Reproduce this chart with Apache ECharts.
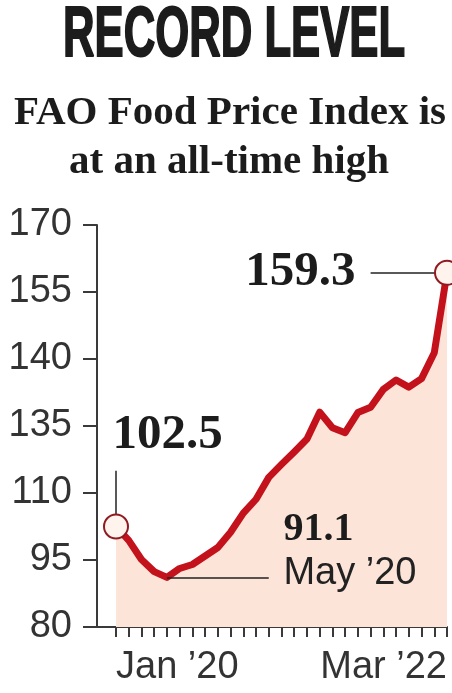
<!DOCTYPE html>
<html>
<head>
<meta charset="utf-8">
<script src="https://cdn.jsdelivr.net/npm/echarts@6/dist/echarts.min.js"></script>
<style>
html, body { margin: 0; padding: 0; background: #fff; }
#chart { width: 452px; height: 693px; }
</style>
</head>
<body>
<div id="chart"></div>
<script>
// FAO Food Price Index, monthly, Jan 2020 - Mar 2022
var months = [
	'Jan ’20', 'Feb ’20', 'Mar ’20', 'Apr ’20', 'May ’20', 'Jun ’20',
	'Jul ’20', 'Aug ’20', 'Sep ’20', 'Oct ’20', 'Nov ’20', 'Dec ’20',
	'Jan ’21', 'Feb ’21', 'Mar ’21', 'Apr ’21', 'May ’21', 'Jun ’21',
	'Jul ’21', 'Aug ’21', 'Sep ’21', 'Oct ’21', 'Nov ’21', 'Dec ’21',
	'Jan ’22', 'Feb ’22', 'Mar ’22'
];
var fpi = [
	102.5, 99.4, 95.1, 92.4, 91.1, 93.1,
	94.0, 95.9, 97.8, 101.2, 105.5, 108.6,
	113.5, 116.4, 119.2, 122.1, 128.1, 124.6,
	123.5, 128.0, 129.2, 133.2, 135.3, 133.7,
	135.6, 141.4, 159.3
];
// tick labels exactly as printed on the graphic
var yTickLabels = ['80', '95', '110', '135', '140', '155', '170'];

var last = fpi.length - 1;
var lowIdx = fpi.indexOf(Math.min.apply(null, fpi));
var red = '#c3121b';
var ink = '#1c1c1c';
var axisInk = '#3a3a3a';

var numLabel = {
	fontFamily: 'Liberation Serif',
	fontWeight: 'bold',
	fontSize: 49,
	color: ink
};

var chart = echarts.init(document.getElementById('chart'));
var option = {
	backgroundColor: '#fff',
	animation: false,
	graphic: [{
		type: 'text',
		x: 63,
		y: 37,
		scaleX: 0.624,
		style: {
			text: 'RECORD LEVEL',
			font: 'bold 70px "Liberation Sans"',
			fill: ink,
			stroke: ink,
			lineWidth: 2,
			verticalAlign: 'middle'
		}
	}, {
		type: 'text',
		x: 230,
		y: 113,
		style: {
			text: 'FAO Food Price Index is',
			font: 'bold 41px "Liberation Serif"',
			fill: ink,
			align: 'center',
			verticalAlign: 'middle'
		}
	}, {
		type: 'text',
		x: 229,
		y: 162,
		style: {
			text: 'at an all-time high',
			font: 'bold 41px "Liberation Serif"',
			fill: ink,
			align: 'center',
			verticalAlign: 'middle'
		}
	}],
	grid: [
		{ left: 116, right: 5, top: 225, bottom: 66 },
		// small grid only to carry the x axis line back to the y axis
		{ left: 96, width: 21, top: 225, bottom: 66 }
	],
	xAxis: [{
		type: 'category',
		data: months,
		boundaryGap: false,
		axisLine: { lineStyle: { color: axisInk, width: 2 } },
		axisTick: { show: true, interval: 0, length: 10, lineStyle: { color: axisInk, width: 2 } },
		axisLabel: {
			interval: function (i) { return i === 0 || i === last; },
			alignMinLabel: 'left',
			alignMaxLabel: 'right',
			margin: 22,
			fontSize: 38,
			fontFamily: 'Liberation Sans',
			color: '#333'
		}
	}, {
		gridIndex: 1,
		type: 'value',
		min: 0,
		max: 1,
		axisLine: { lineStyle: { color: axisInk, width: 2 } },
		axisTick: { show: false },
		axisLabel: { show: false },
		splitLine: { show: false }
	}],
	yAxis: [{
		type: 'value',
		min: 80,
		max: 170,
		interval: 15,
		offset: 19,
		axisLine: { show: true, lineStyle: { color: axisInk, width: 2 } },
		axisTick: { show: true, length: 14, lineStyle: { color: axisInk, width: 2 } },
		splitLine: { show: false },
		axisLabel: {
			margin: 25,
			fontSize: 38,
			fontFamily: 'Liberation Sans',
			color: '#333',
			formatter: function (v) { return yTickLabels[Math.round((v - 80) / 15)]; }
		}
	}, {
		gridIndex: 1,
		type: 'value',
		min: 0,
		max: 1,
		show: false
	}],
	series: [{
		type: 'line',
		data: fpi,
		symbol: 'none',
		z: 2,
		lineStyle: { color: red, width: 7, cap: 'round', join: 'round' },
		areaStyle: { color: '#fce4d8', opacity: 1 },
		markLine: {
			silent: true,
			symbol: ['none', 'none'],
			label: { show: false },
			lineStyle: { color: '#222', width: 1.5, type: 'solid' },
			data: [
				[{ coord: [months[0], fpi[0]] }, { coord: [months[0], 115] }],
				[{ coord: [months[20], fpi[last]] }, { coord: [months[last], fpi[last]] }],
				[{ coord: [months[lowIdx], fpi[lowIdx]] }, { coord: [months[12], fpi[lowIdx]] }]
			]
		},
		markPoint: {
			silent: true,
			symbol: 'circle',
			symbolSize: 1,
			itemStyle: { color: 'rgba(0,0,0,0)' },
			data: [{
				coord: [months[0], fpi[0]],
				label: Object.assign({
					position: [-3, -91], align: 'left', verticalAlign: 'middle',
					formatter: fpi[0].toFixed(1)
				}, numLabel)
			}, {
				coord: [months[last], fpi[last]],
				label: Object.assign({
					position: [-91, 0], align: 'right', verticalAlign: 'middle',
					formatter: fpi[last].toFixed(1)
				}, numLabel)
			}, {
				coord: [months[lowIdx], fpi[lowIdx]],
				label: {
					position: [117, -69],
					align: 'left',
					verticalAlign: 'top',
					formatter: '{v|' + fpi[lowIdx].toFixed(1) + '}\n{d|' + months[lowIdx] + '}',
					rich: {
						v: { fontFamily: 'Liberation Serif', fontWeight: 'bold', fontSize: 40, lineHeight: 44, color: ink },
						d: { fontFamily: 'Liberation Sans', fontSize: 38, lineHeight: 44, color: '#222' }
					}
				}
			}]
		}
	}, {
		type: 'scatter',
		z: 5,
		silent: true,
		symbolSize: 24,
		itemStyle: { color: '#fff3ee', borderColor: '#8f1a20', borderWidth: 2, opacity: 1 },
		data: [[months[0], fpi[0]], [months[last], fpi[last]]]
	}]
};
chart.setOption(option);
</script>
</body>
</html>
